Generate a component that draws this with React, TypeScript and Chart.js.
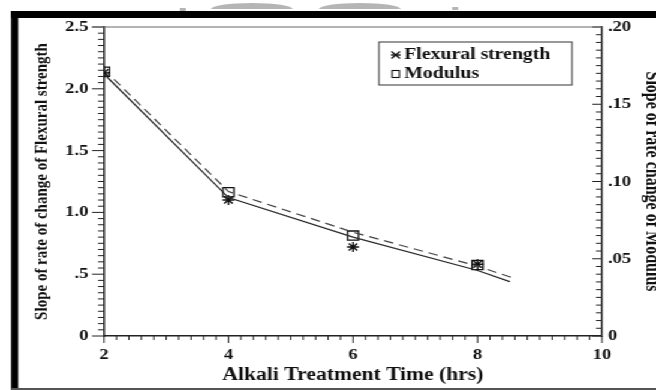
import React, { useEffect, useRef } from 'react';
import { Chart, registerables } from 'chart.js';

Chart.register(...registerables);

// ---- data ----
const TREATMENT_HOURS = [2, 4, 6, 8];
const FLEXURAL_SLOPE = [2.13, 1.10, 0.72, 0.58];
const MODULUS_SLOPE = [0.171, 0.093, 0.065, 0.046];

const FLEX_FIT_HOURS = [2, 4, 6, 8, 8.52];
const FLEX_FIT_VALUES = [2.12, 1.12, 0.80, 0.53, 0.44];
const MOD_FIT_HOURS = [2, 4, 6, 8, 8.57];
const MOD_FIT_VALUES = [0.1725, 0.0935, 0.0672, 0.0452, 0.0376];

const X_TICK_LABELS = ['2', '4', '6', '8', '10'];
const LEFT_TICK_LABELS = ['0', '.5', '1.0', '1.5', '2.0', '2.5'];
const RIGHT_TICK_LABELS = ['0', '.05', '.10', '.15', '.20'];
const LEGEND_LABELS = ['Flexural strength', 'Modulus'];

const X_TITLE = 'Alkali Treatment Time (hrs)';
const LEFT_TITLE = 'Slope of rate of change of Flexural strength';
const RIGHT_TITLE = 'Slope of rate change of Modulus';

// ---- layout (the scanned original is stretched horizontally) ----
const W = 547;
const H = 390;
const SX = 656 / W;
const FONT = '"Liberation Serif", "Times New Roman", serif';
const INK = '#111';

const matchLabel = (labels: string[], v: number) => {
  for (const l of labels) {
    if (Math.abs(parseFloat(l) - v) < 1e-6) return l;
  }
  return '';
};

const decor = {
  id: 'decor',
  beforeDraw(chart: any) {
    const ctx = chart.ctx;
    ctx.save();
    ctx.fillStyle = '#fff';
    ctx.fillRect(0, 0, W, H);
    // faint scan watermark above the frame
    ctx.fillStyle = 'rgba(120,120,120,0.55)';
    ctx.beginPath();
    ctx.ellipse(210, 9, 34, 6, 0, Math.PI, 2 * Math.PI);
    ctx.fill();
    ctx.beginPath();
    ctx.ellipse(300, 9, 34, 6, 0, Math.PI, 2 * Math.PI);
    ctx.fill();
    ctx.fillRect(150, 8, 5, 3);
    ctx.fillRect(377, 7, 5, 3);
    // scanned frame
    ctx.fillStyle = '#000';
    ctx.fillRect(9.2, 11, 6, H - 11);
    ctx.fillRect(9.2, 11, W - 9.2, 7);
    ctx.fillStyle = '#555';
    ctx.fillRect(9.2, 388, W - 9.2, 2);
    ctx.restore();
  },
  afterDraw(chart: any) {
    const ctx = chart.ctx;
    const ca = chart.chartArea;
    const x = chart.scales.x;
    const yl = chart.scales.y;
    const yr = chart.scales.y1;
    ctx.save();
    ctx.strokeStyle = '#222';
    ctx.lineWidth = 1;
    const line = (x0: number, y0: number, x1: number, y1: number) => {
      ctx.beginPath();
      ctx.moveTo(x0, y0);
      ctx.lineTo(x1, y1);
      ctx.stroke();
    };
    // x ticks (outward, down)
    for (let i = 0; i <= 40; i++) {
      const px = x.getPixelForValue(2 + i * 0.2);
      const major = i % 10 === 0;
      line(px, ca.bottom, px, ca.bottom + (major ? 7 : 4));
    }
    // left ticks (outward)
    for (let i = 0; i <= 50; i++) {
      const py = yl.getPixelForValue(i * 0.05);
      const major = i % 10 === 0;
      line(ca.left - (major ? 10 : 5), py, ca.left, py);
    }
    // right ticks (inward)
    for (let i = 0; i <= 40; i++) {
      const py = yr.getPixelForValue(i * 0.005);
      const major = i % 10 === 0;
      line(ca.right - (major ? 8 : 5), py, ca.right, py);
    }
    // top frame line
    ctx.strokeStyle = '#666';
    line(ca.left - 10, ca.top, ca.right, ca.top);

    // legend box
    const bx = ca.right - 186;
    const by = ca.top + 15;
    const bw = 161;
    const bh = 43;
    ctx.strokeStyle = '#333';
    ctx.lineWidth = 1;
    ctx.strokeRect(bx, by, bw, bh);
    ctx.fillStyle = INK;
    ctx.font = `bold 16.5px ${FONT}`;
    ctx.textBaseline = 'middle';
    ctx.textAlign = 'left';
    const r1 = by + 13;
    const r2 = by + 32;
    ctx.fillText(LEGEND_LABELS[0], bx + 21, r1);
    ctx.fillText(LEGEND_LABELS[1], bx + 21, r2);
    // legend markers
    const mx = bx + 14;
    ctx.strokeStyle = '#111';
    ctx.lineWidth = 1.4;
    line(mx - 3.5, r1 - 3.5, mx + 3.5, r1 + 3.5);
    line(mx - 3.5, r1 + 3.5, mx + 3.5, r1 - 3.5);
    line(mx - 4, r1, mx + 4, r1);
    ctx.lineWidth = 1.1;
    ctx.strokeRect(mx - 3, r2 - 3.5, 6, 7);
    ctx.restore();
  },
};

export default function App() {
  const ref = useRef<HTMLCanvasElement | null>(null);

  useEffect(() => {
    if (!ref.current) return;
    const tickFont = { family: FONT, size: 15.5, weight: 'bold' as const };
    const chart = new Chart(ref.current, {
      type: 'line',
      data: {
        datasets: [
          {
            label: 'Flexural fit',
            data: FLEX_FIT_HOURS.map((h, i) => ({ x: h, y: FLEX_FIT_VALUES[i] })),
            yAxisID: 'y',
            borderColor: '#2a2a2a',
            borderWidth: 1.3,
            pointRadius: 0,
            fill: false,
          },
          {
            label: 'Modulus fit',
            data: MOD_FIT_HOURS.map((h, i) => ({ x: h, y: MOD_FIT_VALUES[i] })),
            yAxisID: 'y1',
            borderColor: '#444',
            borderWidth: 1.2,
            borderDash: [8, 5],
            pointRadius: 0,
            fill: false,
          },
          {
            label: LEGEND_LABELS[0],
            data: TREATMENT_HOURS.map((h, i) => ({ x: h, y: FLEXURAL_SLOPE[i] })),
            yAxisID: 'y',
            showLine: false,
            pointStyle: 'star',
            pointRadius: 5,
            pointBorderColor: '#111',
            pointBorderWidth: 1.4,
          },
          {
            label: LEGEND_LABELS[1],
            data: TREATMENT_HOURS.map((h, i) => ({ x: h, y: MODULUS_SLOPE[i] })),
            yAxisID: 'y1',
            showLine: false,
            pointStyle: 'rect',
            pointRadius: 6.5,
            pointBorderColor: '#111',
            pointBackgroundColor: 'rgba(255,255,255,0)',
            pointBorderWidth: 1.3,
          },
        ],
      },
      options: {
        responsive: false,
        animation: false,
        devicePixelRatio: 1,
        layout: { padding: { top: 27, left: 0, right: 0, bottom: 0 } },
        plugins: { legend: { display: false }, tooltip: { enabled: false } },
        scales: {
          x: {
            type: 'linear',
            min: 2,
            max: 10,
            afterFit: (s: any) => { s.height = H - 336; },
            ticks: {
              stepSize: 2,
              padding: 10,
              color: INK,
              font: tickFont,
              maxRotation: 0,
              callback: (v: any) => matchLabel(X_TICK_LABELS, Number(v)),
            },
            grid: { display: true, drawOnChartArea: false, drawTicks: false },
            border: { display: true, color: '#222', width: 1.5 },
            title: {
              display: true,
              text: X_TITLE,
              color: INK,
              font: { family: FONT, size: 18, weight: 'bold' },
              padding: { top: 0, bottom: 4 },
            },
          },
          y: {
            type: 'linear',
            position: 'left',
            min: 0,
            max: 2.5,
            afterFit: (s: any) => { s.width = 104 / SX; },
            ticks: {
              stepSize: 0.5,
              padding: 13,
              color: INK,
              font: tickFont,
              callback: (v: any) => matchLabel(LEFT_TICK_LABELS, Number(v)),
            },
            grid: { display: true, drawOnChartArea: false, drawTicks: false },
            border: { display: true, color: '#222', width: 1.5 },
            title: {
              display: true,
              text: LEFT_TITLE,
              color: INK,
              font: { family: FONT, size: 15, weight: 'bold', lineHeight: 1.2 },
              padding: { top: 26, bottom: 0 },
            },
          },
          y1: {
            type: 'linear',
            position: 'right',
            min: 0,
            max: 0.2,
            afterFit: (s: any) => { s.width = W - 602 / SX; },
            ticks: {
              stepSize: 0.05,
              padding: 5,
              color: INK,
              font: tickFont,
              callback: (v: any) => matchLabel(RIGHT_TICK_LABELS, Number(v)),
            },
            grid: { display: true, drawOnChartArea: false, drawTicks: false },
            border: { display: true, color: '#222', width: 1.5 },
            title: {
              display: true,
              text: RIGHT_TITLE,
              color: INK,
              font: { family: FONT, size: 16, weight: 'bold', lineHeight: 1 },
              padding: { top: -4, bottom: 0 },
            },
          },
        },
      },
      plugins: [decor],
    });
    return () => chart.destroy();
  }, []);

  return (
    <div
      style={{
        position: 'absolute',
        left: 0,
        top: 0,
        width: W,
        height: H,
        transform: `scaleX(${SX})`,
        transformOrigin: '0 0',
        background: '#fff',
      }}
    >
      <canvas ref={ref} width={W} height={H} style={{ display: 'block' }} />
    </div>
  );
}
